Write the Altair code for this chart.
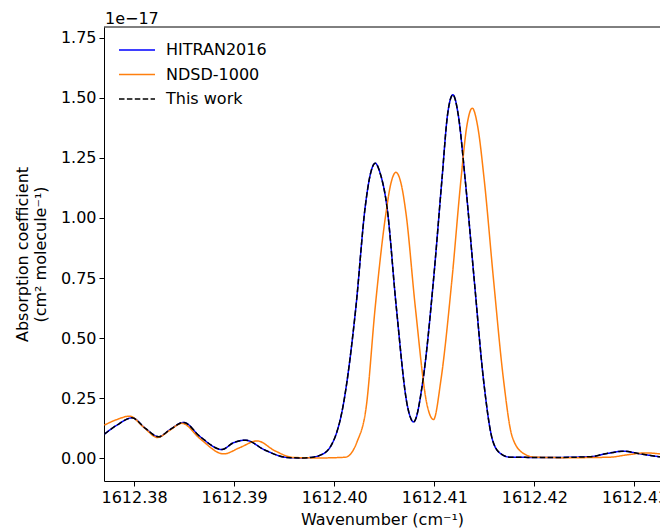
import altair as alt
import pandas as pd

# Wavenumber (cm^-1) and absorption coefficient (units of 1e-17 cm^2 molecule^-1)
hitran_x = [1612.37703, 1612.37830, 1612.37980, 1612.38113, 1612.38246, 1612.38363, 1612.38495,
            1612.38662, 1612.38879, 1612.38992, 1612.39112, 1612.39311, 1612.39528, 1612.39661,
            1612.39761, 1612.39861, 1612.39961, 1612.40087, 1612.40217, 1612.40310, 1612.40360,
            1612.40410, 1612.40460, 1612.40527, 1612.40620, 1612.40733, 1612.40793, 1612.40887,
            1612.40992, 1612.41076, 1612.41134, 1612.41186, 1612.41239, 1612.41309, 1612.41399,
            1612.41492, 1612.41579, 1612.41659, 1612.41759, 1612.42158, 1612.42558, 1612.42708,
            1612.42890, 1612.43057, 1612.43257, 1612.43407]
hitran_y = [0.100, 0.138, 0.168, 0.124, 0.089, 0.120, 0.149,
            0.089, 0.036, 0.064, 0.075, 0.033, 0.003, 0.001,
            0.003, 0.0125, 0.047, 0.214, 0.630, 1.047, 1.180,
            1.228, 1.185, 1.047, 0.630, 0.214, 0.151, 0.325,
            0.742, 1.158, 1.435, 1.513, 1.430, 1.158, 0.742,
            0.325, 0.080, 0.020, 0.004, 0.003, 0.006, 0.018,
            0.029, 0.018, 0.006, 0.003]

# "This work" lies exactly on top of HITRAN2016 in the picture
thiswork_x = list(hitran_x)
thiswork_y = list(hitran_y)

ndsd_x = [1612.37703, 1612.37823, 1612.37956, 1612.38093, 1612.38236, 1612.38353, 1612.38479,
          1612.38662, 1612.38895, 1612.39062, 1612.39229, 1612.39411, 1612.39591, 1612.39861,
          1612.40111, 1612.40230, 1612.40320, 1612.40410, 1612.40517, 1612.40567, 1612.40617,
          1612.40667, 1612.40717, 1612.40810, 1612.40932, 1612.40992, 1612.41066, 1612.41176,
          1612.41266, 1612.41324, 1612.41379, 1612.41434, 1612.41499, 1612.41592, 1612.41692,
          1612.41778, 1612.41890, 1612.42007, 1612.42349, 1612.42749, 1612.42929, 1612.43116,
          1612.43334, 1612.43454]
ndsd_y = [0.1375, 0.160, 0.175, 0.130, 0.086, 0.115, 0.145,
          0.080, 0.018, 0.045, 0.072, 0.030, 0.003, 0.001,
          0.004, 0.070, 0.214, 0.630, 1.020, 1.145, 1.190,
          1.145, 1.020, 0.630, 0.214, 0.161, 0.325, 0.742,
          1.158, 1.380, 1.457, 1.380, 1.158, 0.742, 0.325,
          0.090, 0.020, 0.004, 0.002, 0.004, 0.014, 0.022,
          0.014, 0.009]

series_names = ["HITRAN2016", "NDSD-1000", "This work"]
series_colors = ["#0000ff", "#ff7f0e", "#000000"]
series_dash = [[1, 0], [1, 0], [5.5, 2.4]]
x_ticks = [1612.38, 1612.39, 1612.40, 1612.41, 1612.42, 1612.43]
y_ticks = [0.0, 0.25, 0.5, 0.75, 1.0, 1.25, 1.5, 1.75]

rows = []
for name, xs, ys in zip(series_names, [hitran_x, ndsd_x, thiswork_x], [hitran_y, ndsd_y, thiswork_y]):
    for xv, yv in zip(xs, ys):
        rows.append({"series": name, "wn": xv, "k": yv})
df = pd.DataFrame(rows)

FONT = "DejaVu Sans"
PLOT_W = 556
PLOT_H = 454
x_scale = alt.Scale(domain=[1612.377, 1612.43255], nice=False, zero=False)
y_scale = alt.Scale(domain=[-0.095, 1.795], nice=False, zero=False)

leg = alt.Legend(
    title=None, orient="none", legendX=13, legendY=15,
    symbolType="M-1,0H5", symbolSize=144, symbolStrokeWidth=1.5,
    labelFontSize=16, labelFont=FONT, labelColor="black",
    labelOffset=33, rowPadding=8.5, padding=0,
)

lines = alt.Chart(df).mark_line(strokeWidth=1.5, interpolate="monotone", clip=True).encode(
    x=alt.X("wn:Q", scale=x_scale,
            axis=alt.Axis(values=x_ticks, format=".2f", title="Wavenumber (cm⁻¹)",
                          titlePadding=6)),
    y=alt.Y("k:Q", scale=y_scale,
            axis=alt.Axis(values=y_ticks, format=".2f",
                          title=["Absorption coefficient", "(cm² molecule⁻¹)"],
                          titlePadding=12, titleLineHeight=18)),
    color=alt.Color("series:N", scale=alt.Scale(domain=series_names, range=series_colors), legend=leg),
    strokeDash=alt.StrokeDash("series:N", scale=alt.Scale(domain=series_names, range=series_dash), legend=leg),
)

# top spine of the frame
top_frame = alt.Chart(pd.DataFrame({"f": [0]})).mark_rule(color="black", strokeWidth=1).encode(
    x=alt.value(0), x2=alt.value(PLOT_W), y=alt.value(0)
)

expo = alt.Chart(pd.DataFrame({"t": ["1e−17"]})).mark_text(
    align="left", baseline="alphabetic", fontSize=16, font=FONT, color="black"
).encode(x=alt.value(1), y=alt.value(-3), text="t:N")

chart = alt.layer(lines, top_frame, expo).properties(
    width=PLOT_W, height=PLOT_H,
    autosize=alt.AutoSizeParams(type="none"),
    padding={"left": 96, "top": 19, "right": 0, "bottom": 55},
).configure_view(stroke=None).configure_axis(
    grid=False, domainColor="black", tickColor="black", labelColor="black", titleColor="black",
    labelFont=FONT, titleFont=FONT, labelFontSize=16, titleFontSize=16, titleFontWeight="normal",
    domainWidth=1, tickWidth=1, tickSize=5, labelPadding=3,
)

chart.save("out.html", embed_options={"renderer": "svg", "actions": False})
